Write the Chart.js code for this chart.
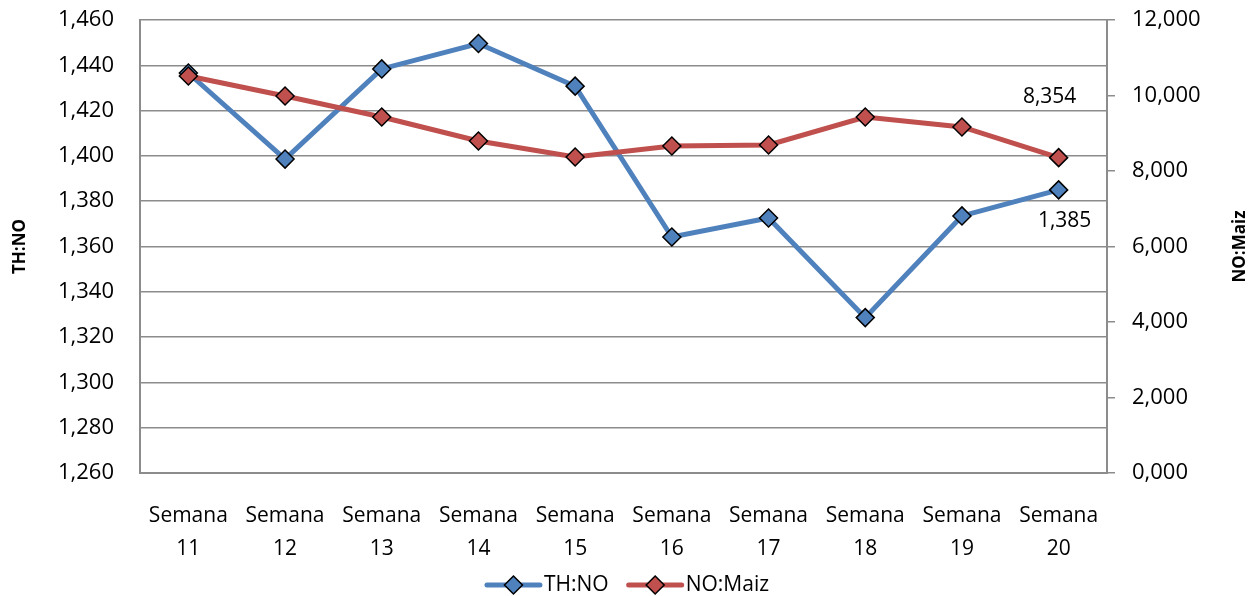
<!DOCTYPE html>
<html>
<head>
<meta charset="utf-8">
<script src="https://cdn.jsdelivr.net/npm/chart.js@4"></script>
<style>
  html, body { margin: 0; padding: 0; background: #fff; }
  #wrap { width: 1256px; height: 596px; }
</style>
</head>
<body>
<div id="wrap"><canvas id="chart" width="1256" height="596"></canvas></div>
<script>
const weeks = ["11", "12", "13", "14", "15", "16", "17", "18", "19", "20"];
const thNo = [1436.6, 1398.6, 1438.4, 1449.6, 1430.8, 1364.2, 1372.6, 1328.6, 1373.5, 1385];
const noMaiz = [10517, 9987, 9430, 8795, 8371, 8662, 8689, 9430, 9166, 8354];
const leftTicks = ["1,260", "1,280", "1,300", "1,320", "1,340", "1,360", "1,380", "1,400", "1,420", "1,440", "1,460"];
const rightTicks = ["0,000", "2,000", "4,000", "6,000", "8,000", "10,000", "12,000"];

const BLUE = "#4f81bd";
const RED = "#c0504d";
const GRID = "#8c8c8c";
const FONT = "'Open Sans', sans-serif";

// etiquetas, títulos de ejes y leyenda
const extras = {
  id: "extras",
  afterDatasetsDraw(chart) {
    const ctx = chart.ctx;
    const area = chart.chartArea;
    ctx.save();
    ctx.fillStyle = "#000";
    ctx.font = "21px " + FONT;
    ctx.textAlign = "center";
    ctx.textBaseline = "middle";

    const last = weeks.length - 1;
    const pRed = chart.getDatasetMeta(1).data[last];
    const pBlue = chart.getDatasetMeta(0).data[last];
    ctx.fillText("8,354", pRed.x - 9, pRed.y - 61);
    ctx.fillText("1,385", pBlue.x + 6, pBlue.y + 31);

    ctx.font = "bold 17px " + FONT;
    const midY = (area.top + area.bottom) / 2;
    ctx.save();
    ctx.translate(20, midY);
    ctx.rotate(-Math.PI / 2);
    ctx.fillText("TH:NO", 0, 0);
    ctx.restore();
    ctx.save();
    ctx.translate(1240, midY);
    ctx.rotate(-Math.PI / 2);
    ctx.fillText("NO:Maiz", 0, 0);
    ctx.restore();

    // leyenda
    ctx.font = "21px " + FONT;
    ctx.textAlign = "left";
    const items = [["TH:NO", BLUE], ["NO:Maiz", RED]];
    const lineW = 53, gapText = 4, gapItems = 20;
    let total = 0;
    items.forEach(([t], i) => {
      total += lineW + gapText + ctx.measureText(t).width + (i ? gapItems : 0);
    });
    let x = chart.width / 2 - total / 2;
    const y = 585;
    items.forEach(([t, c], i) => {
      if (i) x += gapItems;
      ctx.strokeStyle = c;
      ctx.lineWidth = 5;
      ctx.lineCap = "round";
      ctx.beginPath();
      ctx.moveTo(x, y);
      ctx.lineTo(x + lineW, y);
      ctx.stroke();
      const cx = x + lineW / 2, r = 9;
      ctx.beginPath();
      ctx.moveTo(cx, y - r);
      ctx.lineTo(cx + r, y);
      ctx.lineTo(cx, y + r);
      ctx.lineTo(cx - r, y);
      ctx.closePath();
      ctx.fillStyle = c;
      ctx.fill();
      ctx.lineWidth = 1.5;
      ctx.strokeStyle = "#000";
      ctx.stroke();
      ctx.fillStyle = "#000";
      x += lineW + gapText;
      ctx.fillText(t, x, y);
      x += ctx.measureText(t).width;
    });
    ctx.restore();
  }
};

function fixV(width) {
  return (s) => {
    s.width = width;
    s.paddingTop = 0;
    s.paddingBottom = 0;
  };
}

new Chart(document.getElementById("chart"), {
  type: "line",
  data: {
    labels: weeks.map((w) => ["Semana", w]),
    datasets: [
      {
        label: "TH:NO",
        data: thNo,
        yAxisID: "y",
        borderColor: BLUE,
        backgroundColor: BLUE,
        pointBackgroundColor: BLUE,
        pointBorderColor: "#000",
        pointBorderWidth: 1.5,
        pointStyle: "rectRot",
        pointRadius: 9,
        borderWidth: 5,
        tension: 0,
        order: 2
      },
      {
        label: "NO:Maiz",
        data: noMaiz,
        yAxisID: "y1",
        borderColor: RED,
        backgroundColor: RED,
        pointBackgroundColor: RED,
        pointBorderColor: "#000",
        pointBorderWidth: 1.5,
        pointStyle: "rectRot",
        pointRadius: 9,
        borderWidth: 5,
        tension: 0,
        order: 1
      }
    ]
  },
  options: {
    responsive: false,
    animation: false,
    layout: { padding: { top: 20, bottom: 31, left: 0, right: 0 } },
    plugins: {
      legend: { display: false },
      tooltip: { enabled: false }
    },
    scales: {
      x: {
        offset: true,
        afterFit: (s) => { s.height = 92; s.paddingLeft = 0; s.paddingRight = 0; },
        grid: { display: false, drawTicks: false },
        border: { display: true, color: GRID, width: 2 },
        ticks: {
          color: "#000",
          padding: 26,
          maxRotation: 0,
          autoSkip: false,
          font: { family: FONT, size: 21, lineHeight: 1.6 }
        }
      },
      y: {
        position: "left",
        min: 1260,
        max: 1460,
        afterFit: fixV(140),
        afterBuildTicks: (s) => {
          s.ticks = leftTicks.map((t, i) => ({ value: 1260 + i * 20 }));
        },
        grid: { color: GRID, lineWidth: 1.5, drawTicks: false },
        border: { display: true, color: GRID, width: 2 },
        ticks: {
          color: "#000",
          padding: 26,
          font: { family: FONT, size: 22 },
          callback: (v, i) => leftTicks[i]
        }
      },
      y1: {
        position: "right",
        min: 0,
        max: 12000,
        afterFit: fixV(149),
        afterBuildTicks: (s) => {
          s.ticks = rightTicks.map((t, i) => ({ value: i * 2000 }));
        },
        grid: { drawOnChartArea: false, drawTicks: true, tickLength: 8, color: GRID, lineWidth: 1.5 },
        border: { display: true, color: GRID, width: 2 },
        ticks: {
          color: "#000",
          padding: 17,
          font: { family: FONT, size: 22 },
          callback: (v, i) => rightTicks[i]
        }
      }
    }
  },
  plugins: [extras]
});
</script>
</body>
</html>
